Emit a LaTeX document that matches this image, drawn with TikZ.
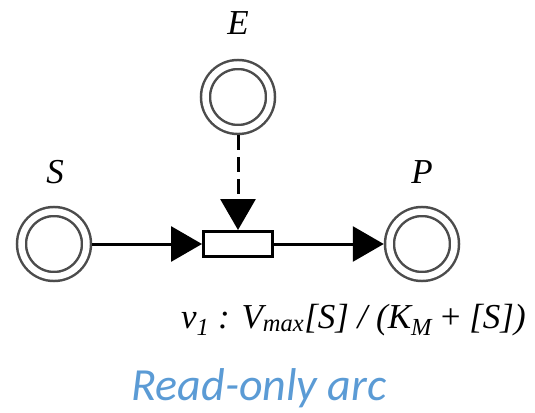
\documentclass[tikz,border=0pt]{standalone}
\usepackage{fontspec}
\setmainfont{Liberation Serif}
\newfontfamily\labfont{Liberation Serif}[UprightFont=* Italic, ItalicFont=* Italic]
\newfontfamily\capfont{Carlito}
\usetikzlibrary{arrows.meta, positioning}
\definecolor{capblue}{HTML}{5B9BD5}

\begin{document}
\begin{tikzpicture}[x=1pt, y=-1pt, font=\labfont\fontsize{35}{42}\selectfont,
    place/.style={circle, draw=black!70, line width=2.5pt, double=white, double distance=6.5pt, minimum size=65pt, inner sep=0pt, outer sep=5.75pt},
    trans/.style={rectangle, draw, line width=3pt, fill=white, minimum width=69pt, minimum height=25pt, inner sep=0pt},
    arc/.style={line width=3pt, -{Triangle[length=31pt, width=35pt]}},
    readarc/.style={arc, dash pattern=on 15pt off 7pt},
    lbl/.style={inner sep=0pt}]
    \useasboundingbox ({0},{0}) rectangle ({535},{412});

    % places and transition
    \node[place] (S) at ({54},{244}) {};
    \node[place] (E) at ({238},{97}) {};
    \node[place] (P) at ({422},{244}) {};
    \node[trans] (t1) at ({238},{244}) {};

    \node[lbl] (lS) at ({55},{172}) {S};
    \node[lbl] (lE) at ({238},{23}) {E};
    \node[lbl] (lP) at ({422},{172}) {P};

    % arcs
    \draw[arc] (S) -- (t1);
    \draw[arc] (t1) -- (P);
    \draw[readarc] (E) -- (t1);

    \node[lbl, anchor=base west] (rate) at ({181},{328}) {v\textsubscript{1} : V\textsubscript{max}[S] / (K\textsubscript{M} {\normalfont\fontsize{35}{42}\selectfont +} [S])};
    \node[lbl, anchor=base, font=\capfont\fontsize{46}{55}\selectfont\itshape, text=capblue] (cap) at ({259},{400}) {Read-only arc};
\end{tikzpicture}
\end{document}
